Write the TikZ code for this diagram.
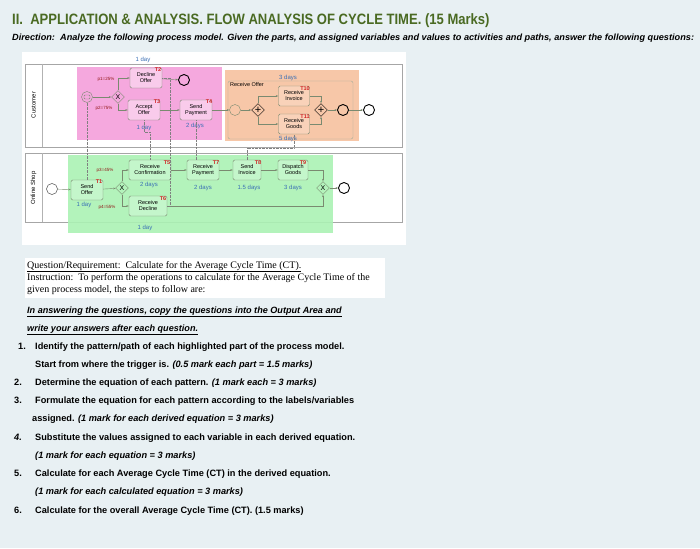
\documentclass[tikz,border=0pt]{standalone}
\usepackage{fontspec}
\setmainfont{Liberation Sans}
\newfontfamily\serifx{Liberation Serif}
\usetikzlibrary{shapes.geometric,arrows.meta}
\definecolor{bgc}{HTML}{E8F0F3}
\definecolor{titc}{HTML}{4A6A22}
\definecolor{pinkc}{HTML}{F5A8DE}
\definecolor{orc}{HTML}{F7C7A8}
\definecolor{grc}{HTML}{ABF2B4}
\definecolor{durc}{HTML}{3A6FB5}
\definecolor{tc}{HTML}{D02020}
\definecolor{bordc}{HTML}{7A8A70}
\tikzset{
 tsk/.style={draw=bordc, rounded corners=1.5pt, font=\fontsize{5.5}{6}\selectfont, align=center, minimum width=32pt, minimum height=20pt, inner sep=1pt},
 tl/.style={font=\fontsize{5.5}{6}\selectfont\bfseries, text=tc, inner sep=0pt},
 dur/.style={font=\fontsize{6}{6}\selectfont, text=durc, inner sep=0pt},
 prb/.style={font=\fontsize{4.5}{5}\selectfont, text=tc!70!black, inner sep=0pt},
 gw/.style={draw=bordc, diamond, minimum size=13pt, inner sep=0pt, font=\fontsize{7}{7}\selectfont},
 ev/.style={draw=black, circle, minimum size=11pt, inner sep=0pt, line width=0.9pt},
 flw/.style={draw=bordc, -{Stealth[length=2.5pt]}, line width=0.4pt},
 msg/.style={draw=gray, densely dotted, line width=0.4pt},
 txt/.style={anchor=base west, inner sep=0pt, font=\fontsize{9.2}{10}\selectfont\bfseries},
 itx/.style={anchor=base west, inner sep=0pt, font=\fontsize{9.1}{10}\selectfont\bfseries\itshape},
 srf/.style={anchor=base west, inner sep=0pt, font=\serifx\fontsize{10}{11}\selectfont},
}
\begin{document}
\begin{tikzpicture}[x=1pt,y=-1pt]
\fill[bgc] (0,0) rectangle (700,548);
\useasboundingbox (0,0) rectangle (700,548);
% title
\node[anchor=base west, inner sep=0pt, text=titc, font=\fontsize{15}{16}\selectfont\bfseries] (title) at (12,25) {\scalebox{0.87}[1]{II.\ \ APPLICATION \& ANALYSIS. FLOW ANALYSIS OF CYCLE TIME. (15 Marks)}};
\node[anchor=base west, inner sep=0pt, font=\fontsize{9}{10}\selectfont\bfseries\itshape] (dir) at (12,41) {\scalebox{1.02}[1]{Direction:\ \ Analyze the following process model. Given the parts, and assigned variables and values to activities and paths, answer the following questions:}};
% diagram canvas
\fill[white] (22,52) rectangle (406,245);
\draw[gray!70, line width=0.6pt] (25,64) rectangle (402,147);
\draw[gray!70, line width=0.6pt] (25,153) rectangle (402,222);
\draw[gray!60] (42,64) -- (42,147) (42,153) -- (42,222);
\node[rotate=90, font=\fontsize{6}{6}\selectfont] (lc) at (33.5,105) {Customer};
\node[rotate=90, font=\fontsize{6}{6}\selectfont] (lo) at (33.5,188) {Online Shop};
% regions
\fill[pinkc] (77,67) rectangle (222,140);
\fill[orc] (225,70) rectangle (359,141);
\fill[grc, opacity=0.9] (68,155) rectangle (333,233);
\node[dur] (d0) at (143,60) {1 day};
\node[dur] (dlast) at (145,228) {1 day};
% customer lane
\node[ev, line width=0.4pt, draw=bordc] (cs) at (87,97) {};
\node[draw=bordc, rounded corners=1pt, minimum width=6pt, minimum height=4pt, inner sep=0pt] at (87,97) {};
\node[gw] (cx) at (118,97) {X};
\node[tsk, fill=pinkc!60!white] (dec) at (146,78) {Decline\\Offer};
\node[tl] at (158,70) {T2};
\node[ev] (ce1) at (184,80) {};
\node[tsk, fill=pinkc!60!white] (acc) at (144,110) {Accept\\Offer};
\node[tl] at (157,102) {T3};
\node[dur] at (144,128) {1 day};
\node[tsk, fill=pinkc!60!white] (pay) at (196,110) {Send\\Payment};
\node[tl] at (209,102) {T4};
\node[dur] at (195,126) {2 days};
\node[prb] at (106,79) {p1=25\%};
\node[prb] at (104,108) {p2=75\%};
\draw[flw] (cs) -- (cx);
\draw[flw] (cx.north) |- (dec.west);
\draw[flw] (cx.south) |- (acc.west);
\draw[flw] (dec) -- (ce1);
\draw[flw] (acc) -- (pay);
% orange sub-process
\draw[bordc!70, rounded corners=2pt] (228,81) rectangle (353,139);
\node[anchor=north west, font=\fontsize{5.5}{6}\selectfont, inner sep=1pt] (ro) at (229,81) {Receive Offer};
\node[dur] at (288,78) {3 days};
\node[dur] at (288,139) {5 days};
\node[ev, line width=0.4pt, draw=bordc] (os) at (235,110) {};
\node[gw, draw=black] (op) at (258,110) {\fontsize{11}{11}\selectfont +};
\node[tsk, fill=orc!80!white, minimum width=31pt] (ri) at (294,96) {Receive\\Invoice};
\node[tl] at (305,89) {T10};
\node[tsk, fill=orc!80!white, minimum width=31pt] (rg) at (294,124) {Receive\\Goods};
\node[tl] at (305,117) {T11};
\node[gw, draw=black] (oj) at (321,110) {\fontsize{11}{11}\selectfont +};
\node[ev] (oe) at (343,110) {};
\node[ev] (oe2) at (369,110) {};
\draw[flw] (pay.east) -- (os);
\draw[flw] (os) -- (op);
\draw[flw] (op.north) |- (ri.west);
\draw[flw] (op.south) |- (rg.west);
\draw[flw] (ri.east) -| (oj.north);
\draw[flw] (rg.east) -| (oj.south);
\draw[flw] (oj) -- (oe);
\draw[flw] (oe) -- (oe2);
% shop lane
\node[ev, line width=0.5pt, draw=black!70] (ss) at (52,189) {};
\node[tsk, fill=grc!70!white] (so) at (87,190) {Send\\Offer};
\node[tl] at (99,182) {T1};
\node[dur] at (84,205) {1 day};
\node[gw] (sx) at (122,188) {X};
\node[prb] at (105,170) {p3=45\%};
\node[prb] at (107,207) {p4=55\%};
\node[tsk, fill=grc!70!white, minimum width=42pt] (rc) at (150,170) {Receive\\Confirmation};
\node[tl] at (167,163) {T5};
\node[dur] at (149,185) {2 days};
\node[tsk, fill=grc!70!white, minimum width=38pt] (rd) at (148,206) {Receive\\Decline};
\node[tl] at (163,199) {T6};
\node[tsk, fill=grc!70!white] (rp) at (203,170) {Receive\\Payment};
\node[tl] at (216,163) {T7};
\node[dur] at (203,188) {2 days};
\node[tsk, fill=grc!70!white, minimum width=28pt] (si) at (247,170) {Send\\Invoice};
\node[tl] at (258,163) {T8};
\node[dur] at (249,188) {1.5 days};
\node[tsk, fill=grc!70!white, minimum width=30pt] (dg) at (293,170) {Dispatch\\Goods};
\node[tl] at (303,163) {T9};
\node[dur] at (293,188) {3 days};
\node[gw] (sj) at (323,188) {X};
\node[ev] (se) at (344,188) {};
\draw[flw] (ss) -- (so);
\draw[flw] (so) -- (sx);
\draw[flw] (sx.north) |- (rc.west);
\draw[flw] (sx.south) |- (rd.west);
\draw[flw] (rc) -- (rp);
\draw[flw] (rp) -- (si);
\draw[flw] (si) -- (dg);
\draw[flw] (dg.east) -| (sj.north);
\draw[flw] (rd.east) -| (sj.south);
\draw[flw] (sj) -- (se);
% message flows
\draw[msg] (so.north) -- (cs.south);
\draw[msg] (acc.south) -- ++(0,12) -| (rc.north);
\draw[msg] (dec.east) -- ++(8,0) |- (rd.east);
\draw[msg] (pay.south) -- (rp.north -| pay.south);
\draw[msg] (si.north) -- ++(0,-12) -| (rg.south);
% question box
\fill[white] (25,258) rectangle (385,298);
\node[srf] (q1) at (27,268) {\underline{Question/Requirement:\ \ Calculate for the Average Cycle Time (CT).}};
\node[srf] (q2) at (27,280) {Instruction:\ \ To perform the operations to calculate for the Average Cycle Time of the};
\node[srf] (q3) at (27,292) {given process model, the steps to follow are:};
\node[itx] (a1) at (27,313) {\underline{In answering the questions, copy the questions into the Output Area and}};
\node[itx] (a2) at (27,331) {\underline{write your answers after each question.}};
\node[txt] (n1) at (18,349) {1.};
\node[txt] (l1) at (35,349) {Identify the pattern/path of each highlighted part of the process model.};
\node[txt] (l1b) at (35,367) {Start from where the trigger is. \textit{(0.5 mark each part = 1.5 marks)}};
\node[txt] (n2) at (14,385) {2.};
\node[txt] (l2) at (35,385) {Determine the equation of each pattern. \textit{(1 mark each = 3 marks)}};
\node[txt] (n3) at (14,403) {3.};
\node[txt] (l3) at (35,403) {Formulate the equation for each pattern according to the labels/variables};
\node[txt] (l3b) at (32,421) {assigned. \textit{(1 mark for each derived equation = 3 marks)}};
\node[txt] (n4) at (14,440) {\textit{4.}};
\node[txt] (l4) at (35,440) {Substitute the values assigned to each variable in each derived equation.};
\node[txt] (l4b) at (35,458) {\textit{(1 mark for each equation = 3 marks)}};
\node[txt] (n5) at (14,476) {5.};
\node[txt] (l5) at (35,476) {Calculate for each Average Cycle Time (CT) in the derived equation.};
\node[txt] (l5b) at (35,494) {\textit{(1 mark for each calculated equation = 3 marks)}};
\node[txt] (n6) at (14,513) {6.};
\node[txt] (l6) at (35,513) {Calculate for the overall Average Cycle Time (CT). (1.5 marks)};
\end{tikzpicture}
\end{document}
